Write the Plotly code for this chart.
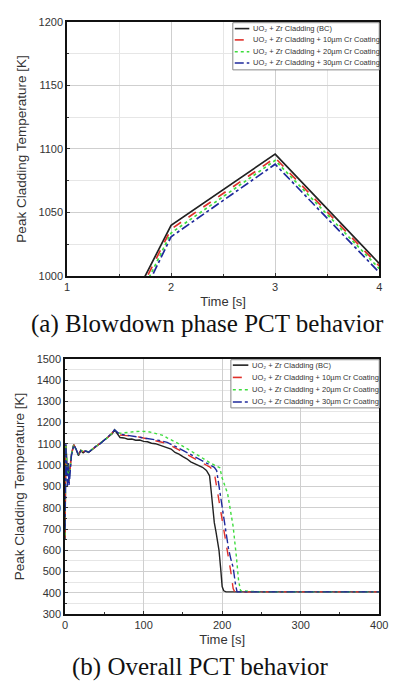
import plotly.graph_objects as go

W, H = 396, 689

names = [
    "UO₂ + Zr Cladding (BC)",
    "UO₂ + Zr Cladding + 10µm Cr Coating",
    "UO₂ + Zr Cladding + 20µm Cr Coating",
    "UO₂ + Zr Cladding + 30µm Cr Coating",
]
colors = ["#222222", "#e0302a", "#3ddc3d", "#1f2a9c"]
dashes = ["solid", "dash", "dot", "dashdot"]

# (a) Blowdown phase
t_a = [1, 2, 3, 4]
pct_a_bc = [880, 1040, 1096, 1010]
pct_a_10 = [875, 1037, 1093, 1008]
pct_a_20 = [868, 1034, 1091, 1006]
pct_a_30 = [862, 1031, 1088, 1003]

# (b) Overall
t_b_bc = [0, 0.5, 1, 2, 3, 4, 5, 6, 8, 11, 14, 17, 20, 23, 26, 30, 35, 40, 45, 50,
          55, 60, 63, 66, 70, 75, 80, 85, 90, 95, 100, 105, 110, 115, 120, 125, 130,
          135, 140, 145, 150, 155, 160, 165, 170, 175, 180, 184, 186, 188, 190, 192,
          194, 196, 198, 200, 202, 205, 250, 300, 350, 400]
pct_b_bc = [650, 1000, 1095, 1040, 960, 1010, 930, 975, 1050, 1097, 1075, 1045, 1068, 1058,
            1066, 1060, 1075, 1090, 1102, 1116, 1132, 1148, 1166, 1150, 1130, 1128, 1122,
            1123, 1117, 1118, 1112, 1110, 1103, 1101, 1094, 1090, 1080, 1076, 1060, 1052,
            1040, 1030, 1016, 1008, 998, 990, 975, 950, 880, 790, 730, 690, 640, 600, 520,
            430, 410, 405, 405, 405, 405, 405]

t_b_10 = [0, 0.5, 1, 2, 3, 4, 5, 6, 8, 11, 14, 17, 20, 23, 26, 30, 35, 40, 45, 50,
          55, 60, 63, 66, 70, 75, 80, 85, 90, 95, 100, 105, 110, 115, 120, 125, 130,
          135, 140, 145, 150, 155, 160, 165, 170, 175, 180, 185, 190, 193, 196, 199,
          202, 205, 208, 211, 214, 216, 250, 300, 350, 400]
pct_b_10 = [660, 1010, 1090, 1030, 950, 1000, 920, 960, 1045, 1095, 1078, 1050, 1070, 1064,
            1066, 1062, 1076, 1090, 1102, 1118, 1132, 1152, 1165, 1155, 1142, 1140, 1137,
            1135, 1134, 1132, 1128, 1125, 1120, 1116, 1112, 1108, 1102, 1092, 1082, 1072,
            1062, 1052, 1043, 1033, 1022, 1012, 1000, 990, 965, 900, 830, 760, 690, 630,
            560, 500, 420, 405, 405, 405, 405, 405]

t_b_20 = [0, 0.5, 1, 2, 3, 4, 5, 6, 8, 11, 14, 17, 20, 23, 26, 30, 35, 40, 45, 50,
          55, 60, 63, 66, 70, 75, 80, 85, 90, 95, 100, 105, 110, 115, 120, 125, 130,
          135, 140, 145, 150, 155, 160, 165, 170, 175, 180, 185, 190, 194, 197, 200,
          203, 207, 210, 214, 218, 221, 223.5, 250, 300, 350, 400]
pct_b_20 = [670, 1020, 1092, 1035, 955, 1005, 925, 965, 1048, 1096, 1076, 1052, 1070, 1064,
            1067, 1062, 1077, 1091, 1101, 1119, 1131, 1151, 1165, 1157, 1150, 1152, 1155,
            1157, 1158, 1159, 1160, 1158, 1154, 1150, 1146, 1140, 1128, 1120, 1110, 1100,
            1090, 1080, 1068, 1056, 1045, 1035, 1022, 1010, 1000, 995, 988, 940, 905, 866,
            800, 712, 574, 455, 410, 405, 405, 405, 405]

t_b_30 = [0, 0.5, 1, 2, 3, 4, 5, 6, 8, 11, 14, 17, 20, 23, 26, 30, 35, 40, 45, 50,
          55, 60, 63, 66, 70, 75, 80, 85, 90, 95, 100, 105, 110, 115, 120, 125, 130,
          135, 140, 145, 150, 155, 160, 165, 170, 175, 180, 185, 190, 193, 196, 199,
          202, 205, 208, 211, 214, 217, 219, 250, 300, 350, 400]
pct_b_30 = [700, 1050, 1100, 980, 900, 1010, 905, 940, 1040, 1095, 1076, 1048, 1068, 1063,
            1067, 1061, 1077, 1091, 1101, 1117, 1131, 1151, 1166, 1156, 1145, 1143, 1140,
            1138, 1136, 1134, 1131, 1128, 1124, 1120, 1116, 1112, 1107, 1098, 1090, 1080,
            1070, 1060, 1050, 1040, 1030, 1020, 1010, 1000, 990, 975, 900, 830, 740, 680,
            610, 560, 520, 440, 405, 405, 405, 405, 405]

fig = go.Figure()

series_a = [pct_a_bc, pct_a_10, pct_a_20, pct_a_30]
for i in range(4):
    fig.add_trace(go.Scatter(x=t_a, y=series_a[i], mode="lines", name=names[i],
                             line=dict(color=colors[i], dash=dashes[i], width=1.7),
                             xaxis="x", yaxis="y", showlegend=False))

series_b = [(t_b_bc, pct_b_bc), (t_b_10, pct_b_10), (t_b_20, pct_b_20), (t_b_30, pct_b_30)]
for i in range(4):
    tx, ty = series_b[i]
    fig.add_trace(go.Scatter(x=tx, y=ty, mode="lines", name=names[i],
                             line=dict(color=colors[i], dash=dashes[i], width=1.4),
                             xaxis="x2", yaxis="y2", showlegend=False))

tickfont = dict(family="Liberation Sans, Arial", size=11, color="#333")
titlefont = dict(family="Liberation Sans, Arial", size=13.5, color="#333")
xtitlefont = dict(family="Liberation Sans, Arial", size=13, color="#333")


def xa(domain, rng, dtick, minor_dtick, anchor, minor_grid):
    return dict(domain=domain, range=rng, dtick=dtick, tick0=0, anchor=anchor,
                showline=True, linecolor="#111", linewidth=1.5, mirror=True,
                ticks="inside", ticklen=3, tickcolor="#333",
                showgrid=True, gridcolor="#cfcfcf", gridwidth=1,
                minor=dict(dtick=minor_dtick, ticks="inside", ticklen=2, tickcolor="#333",
                           showgrid=minor_grid, gridcolor="#e6e6e6"),
                tickfont=tickfont, zeroline=False,
                title=dict(text="Time [s]", font=xtitlefont, standoff=5))


def ya(domain, rng, dtick, minor_dtick, anchor):
    return dict(domain=domain, range=rng, dtick=dtick, anchor=anchor,
                showline=True, linecolor="#111", linewidth=1.5, mirror=True,
                ticks="inside", ticklen=3, tickcolor="#333",
                showgrid=True, gridcolor="#cfcfcf", gridwidth=1,
                minor=dict(dtick=minor_dtick, ticks="inside", ticklen=2, tickcolor="#333",
                           showgrid=True, gridcolor="#e6e6e6"),
                tickfont=tickfont, zeroline=False,
                title=dict(text="Peak Cladding Temperature [K]", font=titlefont, standoff=9))


xd = [66 / W, 388 / W]
xd2 = [64 / W, 388 / W]
yd = [1 - 275 / H, 1 - 16 / H]
yd2 = [1 - 619 / H, 1 - 359 / H]

# manual legends (pixel layout -> paper)
def px(x):
    return x / W


def py(y):
    return 1 - y / H


shapes = []
annotations = []
legfont = dict(family="Liberation Sans, Arial", size=7.5, color="#333")
for (bx0, by0, bx1, by1, rows, lx0, lx1, tx) in [
    (237, 17, 388, 65, [23, 34.5, 46.5, 58], 239, 254, 256),
    (235, 360, 388, 409, [365.5, 378, 390.5, 403], 237, 253, 255),
]:
    shapes.append(dict(type="rect", xref="paper", yref="paper",
                       x0=px(bx0), x1=px(bx1), y0=py(by1), y1=py(by0),
                       line=dict(color="#888", width=1), fillcolor="white", layer="above"))
    for i in range(4):
        shapes.append(dict(type="line", xref="paper", yref="paper",
                           x0=px(lx0), x1=px(lx1), y0=py(rows[i]), y1=py(rows[i]),
                           line=dict(color=colors[i], dash=dashes[i], width=1.6),
                           layer="above"))
        annotations.append(dict(text=names[i], x=px(tx), y=py(rows[i]),
                                xref="paper", yref="paper", showarrow=False,
                                xanchor="left", yanchor="middle", font=legfont))

capfont = dict(family="Liberation Serif, Times New Roman", size=25, color="#111")
annotations.append(dict(text="(a) Blowdown phase PCT behavior", x=px(211), y=py(324),
                        xref="paper", yref="paper", showarrow=False,
                        xanchor="center", yanchor="middle", font=capfont))
annotations.append(dict(text="(b) Overall PCT behavior", x=px(203), y=py(673),
                        xref="paper", yref="paper", showarrow=False,
                        xanchor="center", yanchor="middle", font=capfont))

fig.update_layout(
    width=W, height=H, margin=dict(l=0, r=0, t=0, b=0),
    paper_bgcolor="white", plot_bgcolor="white",
    xaxis=xa(xd, [1, 4], 1, 0.5, "y", True),
    yaxis=ya(yd, [1000, 1200], 50, 25, "x"),
    xaxis2=xa(xd2, [0, 400], 100, 50, "y2", False),
    yaxis2=ya(yd2, [300, 1500], 100, 50, "x2"),
    shapes=shapes,
    annotations=annotations,
)

fig.write_html("out.html")
